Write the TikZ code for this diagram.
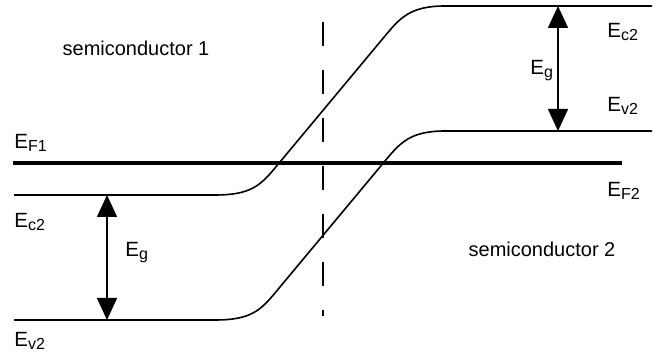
\documentclass[tikz,border=0pt]{standalone}
\usepackage{fontspec}
\setmainfont{Liberation Sans}
\usetikzlibrary{arrows.meta}
\newcommand{\lev}[1]{E\raisebox{-1.4pt}{\fontsize{8}{9}\selectfont #1}}
\tikzset{
  band/.style={line width=0.8pt},
  fermi/.style={line width=1.8pt},
  gaparrow/.style={line width=0.8pt,{Triangle[length=11pt,width=10pt]}-{Triangle[length=11pt,width=10pt]}},
  lbl/.style={inner sep=0pt,anchor=base west,font=\fontsize{10.3}{12}\selectfont},
  sclbl/.style={inner sep=0pt,anchor=base,font=\fontsize{10}{12}\selectfont},
  iface/.style={line width=0.8pt,dash pattern=on 12pt off 12pt}
}
\begin{document}
\begin{tikzpicture}[x=0.5pt,y=-0.5pt]
\useasboundingbox (0,0) rectangle (655,362);
% Fermi level
\coordinate (fl) at (13,163);
\coordinate (fr) at (622,163);
\draw[fermi] (fl) -- (fr);
% conduction band
\draw[band] (14,195) -- (215,195) .. controls (250,195) and (260,186) .. (275,168)
  -- (385,36) .. controls (400,18) and (410,6) .. (445,6) -- (652,6);
% valence band
\draw[band] (14,320) -- (215,320) .. controls (250,320) and (260,311) .. (275,293)
  -- (385,161) .. controls (400,143) and (410,131) .. (445,131) -- (652,131);
% interface
\coordinate (it) at (323,22);
\coordinate (ib) at (323,316);
\draw[iface] (it) -- (ib);
% gap arrows
\coordinate (la) at (107,195);
\coordinate (lb) at (107,320);
\draw[gaparrow] (la) -- (lb);
\coordinate (ra) at (558,6);
\coordinate (rb) at (558,131);
\draw[gaparrow] (ra) -- (rb);
% labels
\node[sclbl] (s1) at (136,56) {semiconductor 1};
\node[sclbl] (s2) at (542,257) {semiconductor 2};
\node[lbl] (ef1) at (14,149) {\lev{F1}};
\node[lbl] (ec2l) at (14,228) {\lev{c2}};
\node[lbl] (egl) at (125,257) {\lev{g}};
\node[lbl] (ev2l) at (14,347) {\lev{v2}};
\node[lbl] (ec2r) at (607,38) {\lev{c2}};
\node[lbl] (egr) at (530,75) {\lev{g}};
\node[lbl] (ev2r) at (607,112) {\lev{v2}};
\node[lbl] (ef2) at (607,197) {\lev{F2}};
\end{tikzpicture}
\end{document}
